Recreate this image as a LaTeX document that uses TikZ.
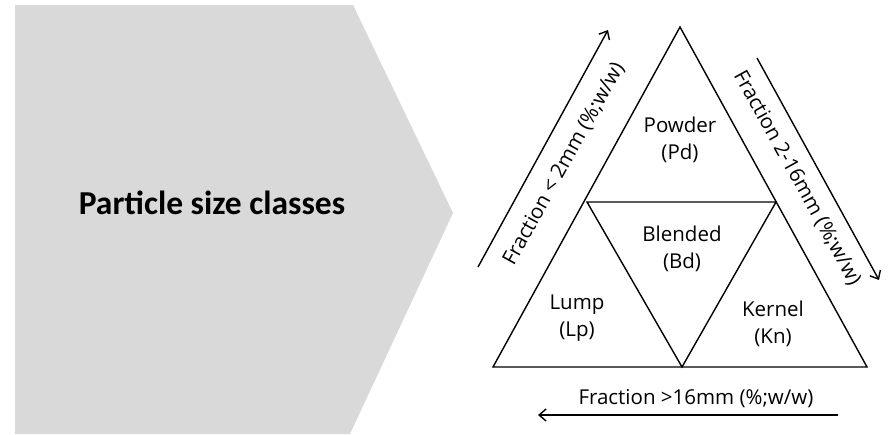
\documentclass[tikz,border=0pt]{standalone}
\usepackage{fontspec}
\setmainfont{Open Sans}
\newfontfamily\headfont{Carlito}
\usetikzlibrary{positioning,arrows.meta,calc}
\definecolor{panelgray}{HTML}{D9D9D9}

\begin{document}
\begin{tikzpicture}[
x=1pt,y=-1pt,
line width=1.4pt,
every node/.style={font=\fontsize{20.5}{27}\selectfont},
region/.style={align=center},
axis/.style={-{Straight Barb[length=7pt,width=12pt]}},
]
\useasboundingbox (0,0) rectangle (891,434);

% grey panel with the class title
\fill[panelgray] (15,5) -- (353,5) -- (453,213) -- (350,434) -- (15,434) -- cycle;
\node[font=\headfont\bfseries\fontsize{33.5}{36}\selectfont] (title) at (212,203) {Particle size classes};

% corners and edge midpoints of the triangle
\coordinate (top) at (680,27);
\coordinate (bl) at (493,367);
\coordinate (br) at (867,367);
\coordinate (ml) at (587,202);
\coordinate (mr) at (776,202);
\coordinate (mb) at (682,367);

\draw (top) -- (br) -- (bl) -- cycle;
\draw (ml) -- (mr) -- (mb) -- cycle;

\node[region] (pd) at (680,140) {Powder\\(Pd)};
\node[region] (bd) at (682,249) {Blended\\(Bd)};
\node[region] (lp) at (577,318) {Lump\\(Lp)};
\node[region] (kn) at (773,324) {Kernel\\(Kn)};

% fraction axes
\coordinate (a1) at (478,267);
\coordinate (a2) at (608,30);
\coordinate (b1) at (757,58);
\coordinate (b2) at (879,280);
\coordinate (c1) at (838,415);
\coordinate (c2) at (538,415);

\draw[axis] (a1) -- (a2);
\draw[axis] (b1) -- (b2);
\draw[axis] (c1) -- (c2);

\node[rotate=61] (fa) at (564,164) {Fraction < 2mm (\%;w/w)};
\node[rotate=-61] (fb) at (797,178) {Fraction 2-16mm (\%;w/w)};
\node (fc) at (696,399) {Fraction >16mm (\%;w/w)};

\end{tikzpicture}
\end{document}
